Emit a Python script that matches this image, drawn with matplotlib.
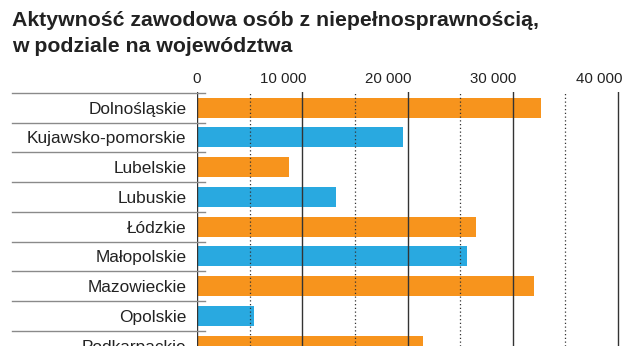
import matplotlib
matplotlib.use("Agg")
import matplotlib.pyplot as plt
from matplotlib.transforms import blended_transform_factory, ScaledTranslation

plt.rcParams['font.family'] = ['Liberation Sans', 'DejaVu Sans']

title = "Aktywność zawodowa osób z niepełnosprawnością,\nw podziale na województwa"
categories = ["Dolnośląskie", "Kujawsko-pomorskie", "Lubelskie", "Lubuskie",
              "Łódzkie", "Małopolskie", "Mazowieckie", "Opolskie", "Podkarpackie"]
values = [32700, 19600, 8700, 13200, 26500, 25700, 32000, 5400, 21500]
colors = ["#F7941D", "#29A9E0"]
major_ticks = [0, 10000, 20000, 30000, 40000]
tick_labels = ["0", "10 000", "20 000", "30 000", "40 000"]
minor_ticks = [5000, 15000, 25000, 35000]

W, H = 640, 346
fig = plt.figure(figsize=(W / 100, H / 100), dpi=100)
ax_left, ax_top = 197, 92
ax = fig.add_axes([ax_left / W, 0, (W - ax_left) / W, (H - ax_top) / H])

px_per_unit = 10.525 / 1000
ax.set_xlim(0, (W - ax_left) / px_per_unit)
pitch = 29.75
ax.set_ylim((H - 107.7) / pitch, -(107.7 - ax_top) / pitch)

ypos = list(range(len(categories)))
bar_colors = [colors[i % 2] for i in ypos]
ax.barh(ypos, values, height=0.67, color=bar_colors, zorder=1)

for t in major_ticks[1:]:
    ax.axvline(t, color="#333333", lw=1.0, zorder=2)
for t in minor_ticks:
    ax.axvline(t, color="#333333", lw=0.9, ls=(0, (1, 2)), zorder=2)
ax.axvline(0, color="#333333", lw=1.0, zorder=3)

# row separators spanning label area
tr = blended_transform_factory(fig.transFigure, ax.transData)
for i in ypos:
    ax.plot([12 / W, 205 / W], [i - 0.5, i - 0.5], transform=tr, color="#8a8a8a",
            lw=1.0, clip_on=False, zorder=4)

for s in ax.spines.values():
    s.set_visible(False)
ax.set_xticks([])
ax.set_yticks(ypos)
ax.set_yticklabels(categories, fontsize=12.4, color="#222222")
ax.tick_params(axis='y', length=0, pad=7.5)

# tick labels on top, right-aligned slightly past their line
ttr = blended_transform_factory(ax.transData, fig.transFigure)
off = ScaledTranslation(4 / 100, 0, fig.dpi_scale_trans)
for t, lab in zip(major_ticks, tick_labels):
    ax.text(t, 1 - 79 / H, lab, transform=ttr + off, ha="right", va="center",
            fontsize=10.8, color="#222222")

fig.text(12 / W, 1 - 11.5 / H, title, ha="left", va="top", fontsize=15.3,
         fontweight="bold", color="#222222", linespacing=1.42)

fig.savefig("out.png", dpi=100, facecolor="white")
